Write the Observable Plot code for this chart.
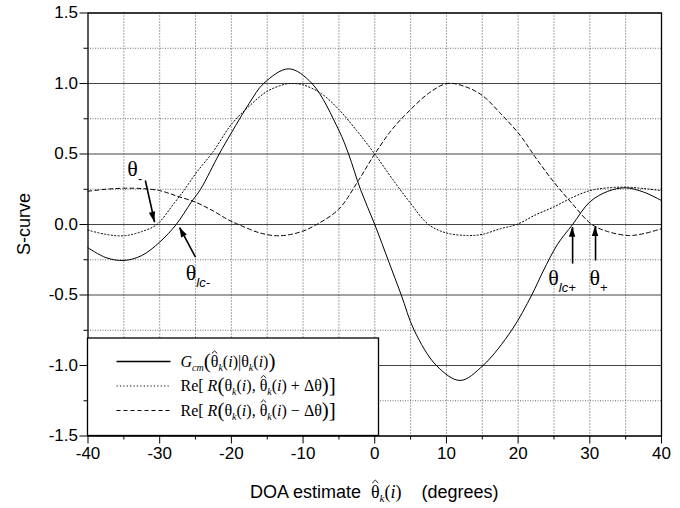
<!DOCTYPE html>
<html><head><meta charset="utf-8">
<script src="https://cdn.jsdelivr.net/npm/d3@7"></script>
<script src="https://cdn.jsdelivr.net/npm/@observablehq/plot@0.6"></script>
<style>
body{margin:0;background:#fff;}
#chart svg{display:block;}
</style></head><body><div id="chart"></div>
<script>
// ---- data ----
const gcmX = [-40,-37.5,-35,-32.5,-30,-27.7,-25.6,-24.3,-21.7,-20,-17.5,-15.5,-12,-8.75,-5,-3.65,-2,0,2,3.7,5.5,8.6,11.9,15.1,19.1,21.9,23.5,25.5,27.6,30,32.5,35,37.5,40];
const gcmY = [-0.165,-0.235,-0.255,-0.22,-0.125,0,0.158,0.25,0.5,0.65,0.86,1.0,1.104,1.0,0.667,0.5,0.25,0,-0.27,-0.5,-0.75,-1.0,-1.106,-1.0,-0.75,-0.5,-0.33,-0.14,0,0.16,0.235,0.26,0.23,0.17];
const plusX = [-40,-37.5,-35,-32.5,-30.4,-28,-26.5,-25,-22.5,-20,-17.5,-15,-12.5,-11.5,-10,-7.5,-5,-2.5,0,2.5,5,7.5,10,13,15,17.5,19.8,22.5,25,27.5,30,32.5,35,37.5,40];
const plusY = [-0.04,-0.07,-0.08,-0.05,0,0.15,0.25,0.36,0.52,0.71,0.84,0.945,0.995,1.0,0.99,0.93,0.815,0.665,0.5,0.32,0.15,0,-0.06,-0.078,-0.07,-0.03,0,0.07,0.125,0.19,0.24,0.26,0.265,0.255,0.24];
const minusX = [-40,-37.5,-35,-32.5,-30,-27.5,-25,-22.5,-20.5,-19,-16,-13.4,-10.5,-8.1,-5,-2.3,0,2.5,4.9,7.5,10.1,12.5,15,17.5,20.3,22.5,25,27.5,30.3,32.5,35.4,37.5,40];
const minusY = [0.236,0.25,0.257,0.255,0.24,0.2,0.158,0.095,0.035,0,-0.06,-0.08,-0.055,0,0.11,0.31,0.5,0.68,0.81,0.93,1.0,0.98,0.915,0.79,0.631,0.47,0.3,0.15,0,-0.05,-0.078,-0.065,-0.03];

const xMajor = [-40,-30,-20,-10,0,10,20,30,40];
const xMinor = [-35,-25,-15,-5,5,15,25,35];
const yMajor = [-1.5,-1.0,-0.5,0.0,0.5,1.0,1.5];
const yMinor = [-1.25,-0.75,-0.25,0.25,0.75,1.25];

// annotation arrows (data coordinates) and labels
const arrowNames = ["θ-","θlc-","θlc+","θ+"];
const arrowX1 = [-32.0,-25.0,27.6,30.8];
const arrowY1 = [0.312,-0.232,-0.277,-0.255];
const arrowX2 = [-30.7,-27.2,27.6,30.8];
const arrowY2 = [0.016,-0.023,-0.019,-0.014];
const labelX = [-33.4,-24.6,26.2,31.3];
const labelY = [0.40,-0.34,-0.376,-0.376];
const labelSub = ["-","lc-","lc+","+"];

const series = [
  {name:"gcm", xs:gcmX, ys:gcmY},
  {name:"plus", xs:plusX, ys:plusY},
  {name:"minus", xs:minusX, ys:minusY}
];
const rows = series.flatMap(s => s.xs.map((x,i)=>({x, y:s.ys[i], s:s.name})));
const arrows = arrowNames.map((n,i)=>({n, x1:arrowX1[i], y1:arrowY1[i], x2:arrowX2[i], y2:arrowY2[i]}));

const dashOf = {gcm:null, plus:"1.2,2.2", minus:"4,3"};

const chart = Plot.plot({
  width:680, height:508,
  marginLeft:87.5, marginRight:19, marginTop:12.5, marginBottom:72.5,
  x:{domain:[-40,40]},
  y:{domain:[-1.5,1.5]},
  style:{fontFamily:"'Liberation Sans', Arial, sans-serif", fontSize:"17px", color:"black", background:"white"},
  marks:[
    Plot.gridX(xMinor.concat(xMajor.slice(1,-1)), {stroke:"#333", strokeOpacity:0.85, strokeDasharray:"1,2"}),
    Plot.gridY(yMinor, {stroke:"#555", strokeOpacity:0.85, strokeDasharray:"1,1.5"}),
    Plot.gridY(yMajor, {stroke:"#444", strokeOpacity:1, strokeWidth:1}),
    Plot.axisX(xMajor, {tickSize:8, tickPadding:3, tickFormat:d=>String(d), label:null, fontSize:17, stroke:"black"}),
    Plot.axisX(xMinor, {tickSize:4, tickFormat:()=>"", label:null, stroke:"black"}),
    Plot.axisY(yMajor, {tickSize:8, tickPadding:2, tickFormat:d=>d.toFixed(1), label:null, fontSize:17, stroke:"black"}),
    Plot.axisY(yMinor, {tickSize:4, tickFormat:()=>"", label:null, stroke:"black"}),
    Plot.frame({stroke:"black", strokeWidth:1.3}),
    ...series.map(s => Plot.line(rows.filter(r=>r.s===s.name), {x:"x", y:"y", curve:"catmull-rom", stroke:"black", strokeWidth:1, strokeDasharray:dashOf[s.name]})),
    Plot.link(arrows, {x1:"x1", y1:"y1", x2:"x2", y2:"y2", stroke:"black", strokeWidth:1.6})
  ]
});
document.getElementById("chart").appendChild(chart);

const sx = chart.scale("x").apply, sy = chart.scale("y").apply;
const svg = d3.select(chart);

// filled arrow heads at the tips
arrows.forEach(a=>{
  const x1 = sx(a.x1), y1 = sy(a.y1), x2 = sx(a.x2), y2 = sy(a.y2);
  const L = Math.hypot(x2-x1, y2-y1), ux = (x2-x1)/L, uy = (y2-y1)/L;
  const hl = 10, hw = 3.2;
  const bx = x2 - ux*hl, by = y2 - uy*hl;
  svg.append("path").attr("d", `M${x2},${y2}L${bx - uy*hw},${by + ux*hw}L${bx + uy*hw},${by - ux*hw}Z`).attr("fill","black");
});

const serif = "'Liberation Serif','Times New Roman',serif";
function rich(text, segs) {
  let shift = 0;
  const hats = [];
  for (const s of segs) {
    const ts = text.append("tspan").text(s.t);
    if (s.it) ts.attr("font-style","italic");
    if (s.fs) ts.attr("font-size", s.fs);
    if (s.ff) ts.attr("font-family", s.ff);
    if (s.dx) ts.attr("dx", s.dx);
    const target = s.dy || 0;
    if (target !== shift) { ts.attr("dy", target - shift); shift = target; }
    if (s.hat) hats.push(ts);
  }
  // draw circumflex accents above hatted characters
  for (const ts of hats) {
    const node = ts.node();
    const p = node.getStartPositionOfChar(0);
    const e = node.getExtentOfChar(0);
    const fs = parseFloat(getComputedStyle(node).fontSize);
    const cx = p.x + e.width/2, top = p.y - 0.72*fs - 1.5;
    const w = fs*0.17, h = fs*0.16;
    text.node().parentNode.appendChild(
      d3.create("svg:path").attr("d", `M${cx-w},${top}L${cx},${top-h}L${cx+w},${top}`)
        .attr("fill","none").attr("stroke","black").attr("stroke-width",0.9).node());
  }
}

// annotation labels
arrowNames.forEach((n,i)=>{
  const t = svg.append("text").attr("x", sx(labelX[i])).attr("y", sy(labelY[i]) + 8)
    .attr("text-anchor","middle").attr("font-family", serif).attr("font-size", 22).attr("fill","black");
  rich(t, [{t:"θ"}, {t:labelSub[i], dy:7, fs:13, it:labelSub[i].length>1, ff:"'Liberation Sans',Arial,sans-serif"}]);
});

// y axis title
svg.append("text").attr("transform", `translate(30,${(sy(1.5)+sy(-1.5))/2}) rotate(-90)`)
  .attr("text-anchor","middle").attr("font-size",18).attr("font-family","'Liberation Sans',Arial,sans-serif").text("S-curve");

// x axis title
const xt = svg.append("text").attr("x", (sx(-40)+sx(40))/2).attr("y", sy(-1.5)+62)
  .attr("text-anchor","middle").attr("font-size",18).attr("font-family","'Liberation Sans',Arial,sans-serif");
rich(xt, [{t:"DOA estimate  "}, {t:"θ", ff:serif, hat:true}, {t:"k", it:true, fs:11, dy:4, ff:serif}, {t:"(", ff:serif}, {t:"i", it:true, ff:serif}, {t:")", ff:serif}, {t:"    (degrees)"}]);

// legend box
const lx0 = sx(-40), ly1 = sy(-1.5), ly0 = ly1 - 97.5, lx1 = lx0 + 291;
svg.append("rect").attr("x", lx0).attr("y", ly0).attr("width", lx1-lx0).attr("height", ly1-ly0)
  .attr("fill","white").attr("stroke","black").attr("stroke-width",1.3);
const sub = t => ({t, it:true, fs:10, dy:4});
const legendRows = [
  {dash:null, segs:[{t:"G", it:true}, {t:"cm", it:true, fs:10, dy:4}, {t:"(", fs:21, dy:1}, {t:"θ", hat:true}, sub("k"), {t:"("}, {t:"i", it:true}, {t:")|θ"}, sub("k"), {t:"("}, {t:"i", it:true}, {t:")"}, {t:")", fs:21, dy:1}]},
  {dash:"1.2,2.2", segs:[{t:"Re[ "}, {t:"R", it:true}, {t:"(", fs:21, dy:1}, {t:"θ"}, sub("k"), {t:"("}, {t:"i", it:true}, {t:"), "}, {t:"θ", hat:true}, sub("k"), {t:"("}, {t:"i", it:true}, {t:") + Δθ"}, {t:")]", fs:21, dy:1}]},
  {dash:"4,3", segs:[{t:"Re[ "}, {t:"R", it:true}, {t:"(", fs:21, dy:1}, {t:"θ"}, sub("k"), {t:"("}, {t:"i", it:true}, {t:"), "}, {t:"θ", hat:true}, sub("k"), {t:"("}, {t:"i", it:true}, {t:") − Δθ"}, {t:")]", fs:21, dy:1}]}
];
legendRows.forEach((r,i)=>{
  const yy = ly0 + 23.5 + i*24.5;
  svg.append("line").attr("x1", lx0+29).attr("x2", lx0+83).attr("y1", yy).attr("y2", yy)
    .attr("stroke","black").attr("stroke-width", i===0?1.3:1).attr("stroke-dasharray", r.dash);
  const t = svg.append("text").attr("x", lx0+93).attr("y", yy+5).attr("text-anchor","start")
    .attr("font-family", serif).attr("font-size",16).attr("fill","black");
  rich(t, r.segs);
});
</script>
</body></html>
